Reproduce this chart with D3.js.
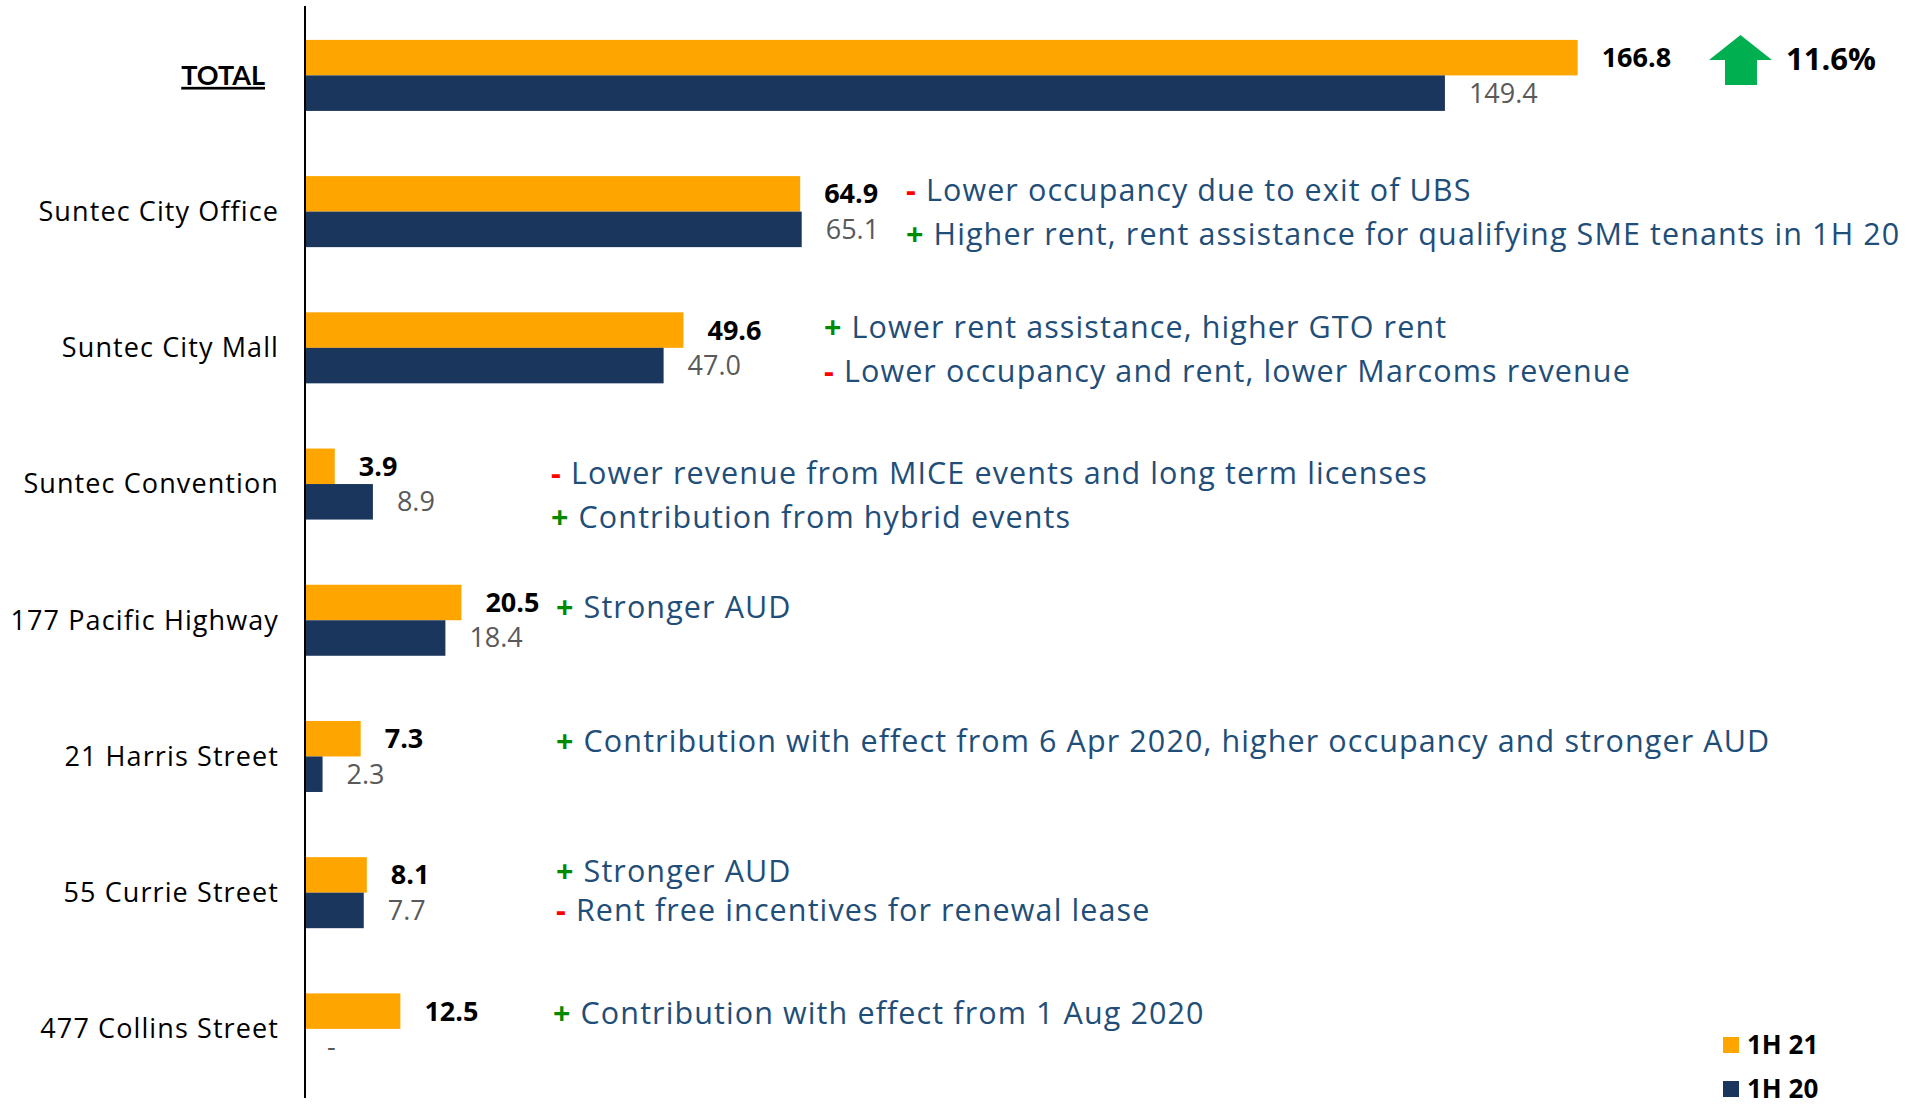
<!DOCTYPE html>
<html>
<head>
<meta charset="utf-8">
<script src="https://cdn.jsdelivr.net/npm/d3@7"></script>
<style>
  body { margin: 0; background: #fff; }
  .cat-label { font-family: "Open Sans", sans-serif; font-size: 27px; letter-spacing: 1.1px; fill: #000; }
  .val-now { font-family: "Open Sans", sans-serif; font-size: 27px; font-weight: 700; fill: #000; }
  .val-prev { font-family: "Open Sans", sans-serif; font-size: 27px; fill: #595959; }
  .note { font-family: "Open Sans", sans-serif; font-size: 30.5px; letter-spacing: 1.1px; fill: #1F4E79; }
  .legend-label { font-family: "Open Sans", sans-serif; font-size: 26px; font-weight: 700; fill: #000; }
</style>
</head>
<body>
<div id="chart"></div>
<script>
// data
const categories = ['TOTAL', 'Suntec City Office', 'Suntec City Mall', 'Suntec Convention',
  '177 Pacific Highway', '21 Harris Street', '55 Currie Street', '477 Collins Street'];
const series = ['1H 21', '1H 20'];
const values1H21 = [166.8, 64.9, 49.6, 3.9, 20.5, 7.3, 8.1, 12.5];
const values1H20 = [149.4, 65.1, 47.0, 8.9, 18.4, 2.3, 7.7, null];
const totalChange = '11.6%';
const notes = [
  [],
  [['-', 'Lower occupancy due to exit of UBS'], ['+', 'Higher rent, rent assistance for qualifying SME tenants in 1H 20']],
  [['+', 'Lower rent assistance, higher GTO rent'], ['-', 'Lower occupancy and rent, lower Marcoms revenue']],
  [['-', 'Lower revenue from MICE events and long term licenses'], ['+', 'Contribution from hybrid events']],
  [['+', 'Stronger AUD']],
  [['+', 'Contribution with effect from 6 Apr 2020, higher occupancy and stronger AUD']],
  [['+', 'Stronger AUD'], ['-', 'Rent free incentives for renewal lease']],
  [['+', 'Contribution with effect from 1 Aug 2020']]
];

// where each block of notes sits (x, and y offsets of its lines from the band centre)
const noteLayout = [
  null,
  {x: 906, dy: [-21, 23]},
  {x: 824, dy: [-21, 23]},
  {x: 551, dy: [-11, 33]},
  {x: 556, dy: [-13]},
  {x: 556, dy: [-15]},
  {x: 556, dy: [-21, 18]},
  {x: 553, dy: [-16]}
];

const config = {
  width: 1907,
  height: 1107,
  axisX: 305,
  top: 7.3,
  bottom: 1097,
  colors: {'1H 21': '#FFA500', '1H 20': '#1A365D'}
};

const svg = d3.select('#chart').append('svg')
    .attr('width', config.width)
    .attr('height', config.height);

const yScale = d3.scaleBand()
    .domain(categories)
    .range([config.top, config.bottom]);

const ySub = d3.scaleBand()
    .domain(series)
    .range([0, yScale.bandwidth()])
    .paddingOuter(0.918);

const xScale = d3.scaleLinear()
    .domain([0, 180])
    .range([config.axisX, config.axisX + 180 * 7.63]);

const rows = categories.map((c, i) => ({
  category: c,
  i: i,
  bars: [
    {series: '1H 21', value: values1H21[i]},
    {series: '1H 20', value: values1H20[i]}
  ]
}));

const rowG = svg.selectAll('g.row')
    .data(rows)
  .join('g')
    .attr('class', 'row')
    .attr('transform', d => `translate(0,${yScale(d.category)})`);

// bars
rowG.selectAll('rect')
    .data(d => d.bars.filter(b => b.value != null))
  .join('rect')
    .attr('x', xScale(0))
    .attr('y', d => ySub(d.series))
    .attr('width', d => xScale(d.value) - xScale(0))
    .attr('height', ySub.bandwidth())
    .attr('fill', d => config.colors[d.series]);

// value labels
rowG.selectAll('text.val')
    .data(d => d.bars)
  .join('text')
    .attr('class', d => d.series === '1H 21' ? 'val val-now' : 'val val-prev')
    .attr('x', d => xScale(d.value || 0) + (d.value == null ? 22 : 24))
    .attr('y', d => ySub(d.series) + ySub.bandwidth() / 2)
    .attr('dy', '0.35em')
    .text(d => d.value == null ? '-' : d3.format('.1f')(d.value));

// category labels
rowG.append('text')
    .attr('class', 'cat-label')
    .attr('text-anchor', 'end')
    .attr('x', d => d.i === 0 ? 265 : 279)
    .attr('y', yScale.bandwidth() / 2)
    .attr('dy', '0.35em')
    .style('font-family', d => d.i === 0 ? 'Lato, sans-serif' : null)
    .style('letter-spacing', d => d.i === 0 ? '0px' : null)
    .style('font-weight', d => d.i === 0 ? 700 : 400)
    .style('text-decoration', d => d.i === 0 ? 'underline' : 'none')
    .text(d => d.category);

// notes
rows.forEach(r => {
  const lay = noteLayout[r.i];
  if (!lay) return;
  notes[r.i].forEach((n, k) => {
    const t = svg.append('text')
        .attr('class', 'note')
        .attr('x', lay.x)
        .attr('y', yScale(r.category) + yScale.bandwidth() / 2 + lay.dy[k])
        .attr('dy', '0.35em');
    t.append('tspan')
        .style('fill', n[0] === '+' ? '#008A00' : '#FF0000')
        .style('font-weight', 700)
        .text(n[0] === '+' ? '+ ' : '- ');
    t.append('tspan').text(n[1]);
  });
});

// axis line
svg.append('line')
    .attr('x1', config.axisX).attr('x2', config.axisX)
    .attr('y1', 6).attr('y2', 1098)
    .attr('stroke', '#000')
    .attr('stroke-width', 2);

// growth arrow + percentage next to TOTAL
const arrow = svg.append('g')
    .attr('transform', `translate(1709,35)`);
arrow.append('path')
    .attr('d', 'M31.5,0 L63,25 L48,25 L48,50 L16,50 L16,25 L0,25 Z')
    .attr('fill', '#00B050');
svg.append('text')
    .attr('x', 1786)
    .attr('y', 70)
    .style('font-family', '"Open Sans", sans-serif')
    .style('font-size', '31px')
    .style('font-weight', 700)
    .text(totalChange);

// legend
const legend = svg.selectAll('g.legend')
    .data(series)
  .join('g')
    .attr('class', 'legend')
    .attr('transform', (d, i) => `translate(1723,${1037 + i * 44})`);
legend.append('rect')
    .attr('width', 16)
    .attr('height', 16)
    .attr('fill', d => config.colors[d]);
legend.append('text')
    .attr('class', 'legend-label')
    .attr('x', 24)
    .attr('y', 8)
    .attr('dy', '0.35em')
    .text(d => d);
</script>
</body>
</html>
